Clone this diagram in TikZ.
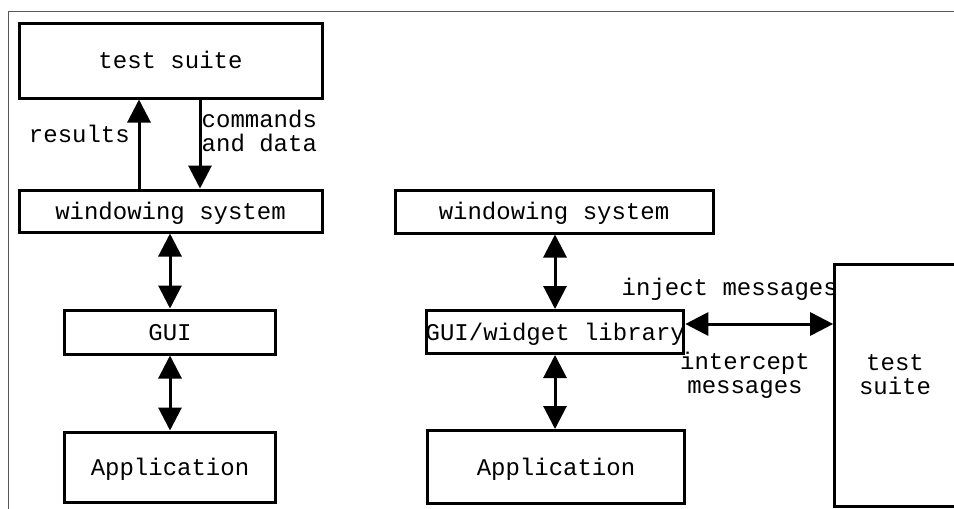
\documentclass[tikz,border=0pt]{standalone}
\usepackage{fontspec}
\newfontfamily\diagfont{Liberation Mono}
\usetikzlibrary{arrows.meta}
\tikzset{
  boxnode/.style={draw, line width=3pt, inner sep=0pt, text height=16pt, text depth=0pt,
    font=\diagfont\fontsize{24}{24}\selectfont},
  lbl/.style={inner sep=0pt, font=\diagfont\fontsize{24}{24}\selectfont},
  sgl/.style={line width=3pt, -{Triangle[length=23pt,width=23pt]}},
  dbl/.style={line width=3pt, {Triangle[length=23pt,width=23pt]}-{Triangle[length=23pt,width=23pt]}},
  framestyle/.style={draw=black!65, line width=1.5pt}
}
\begin{document}
\begin{tikzpicture}[x=1pt,y=-1pt]
\useasboundingbox (0,0) rectangle (954,509);
% frame
\draw[framestyle] (8.3,520) -- (8.3,11.7) -- (970,11.7);
% left diagram
\node[boxnode, minimum width=303pt, minimum height=75pt] (tsT) at (170.5,60.5) {test suite};
\node[boxnode, minimum width=303pt, minimum height=42pt] (winL) at (170.5,211) {windowing system};
\node[boxnode, minimum width=211pt, minimum height=44pt] (guiL) at (170,332) {GUI};
\node[boxnode, minimum width=211pt, minimum height=70pt] (appL) at (170,467) {Application};
\draw[sgl] (winL.north -| 139,0) -- (tsT.south -| 139,0);
\draw[sgl] (tsT.south -| 200,0) -- (winL.north -| 200,0);
\node[lbl, anchor=base east] (res) at (130,142.7) {results};
\node[lbl, anchor=base west, align=left] (cmd) at (201.5,151.2) {commands\\and data};
\draw[dbl] (winL.south -| guiL.north) -- (guiL.north);
\draw[dbl] (guiL.south) -- (appL.north);
% right diagram
\node[boxnode, minimum width=318pt, minimum height=43pt] (winR) at (554,211.5) {windowing system};
\node[boxnode, minimum width=257pt, minimum height=43pt] (guiR) at (555.3,332) {\makebox[0pt]{GUI/widget library}};
\node[boxnode, minimum width=257pt, minimum height=73pt] (appR) at (556,467) {Application};
\node[boxnode, minimum width=121.3pt, minimum height=242.3pt] (tsR) at (895.3,385.2) {};
\node[lbl, anchor=base, align=center] (tsRt) at (895,394) {test\\suite};
\draw[dbl] (winR.south -| 555,0) -- (guiR.north -| 555,0);
\draw[dbl] (guiR.south -| 555,0) -- (appR.north -| 555,0);
\draw[dbl] ([yshift=8pt]guiR.east) -- ([yshift=8pt]guiR.east -| tsR.west);
\node[lbl, anchor=base west] (inj) at (621.5,295) {inject messages};
\node[lbl, anchor=base, align=center] (icp) at (745,393.5) {intercept\\messages};
\end{tikzpicture}
\end{document}
